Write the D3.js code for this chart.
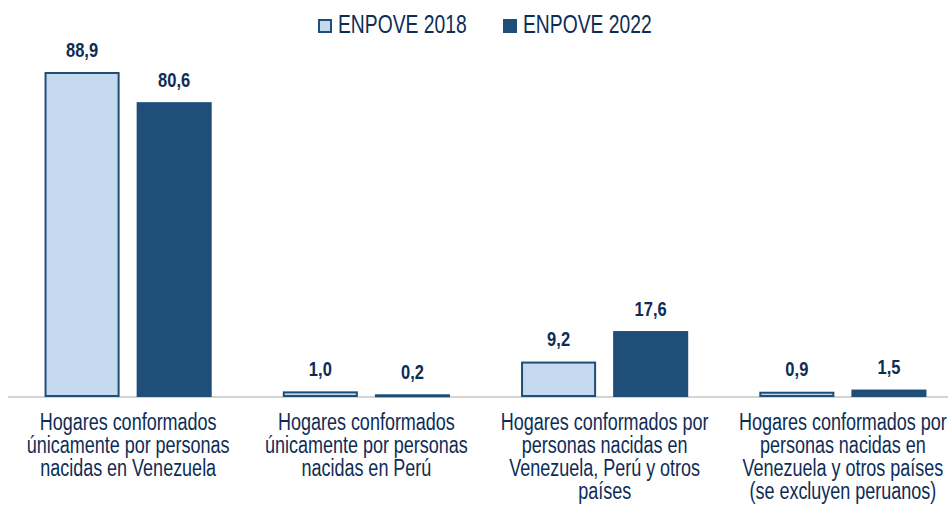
<!DOCTYPE html>
<html>
<head>
<meta charset="utf-8">
<script src="https://cdn.jsdelivr.net/npm/d3@7"></script>
<style>
  body { margin: 0; background: #fff; }
  text { font-family: "Liberation Sans", Arial, sans-serif; }
</style>
</head>
<body>
<div id="chart"></div>
<script>
// data
var categories = [
  ["Hogares conformados", "únicamente por personas", "nacidas en Venezuela"],
  ["Hogares conformados", "únicamente por personas", "nacidas en Perú"],
  ["Hogares conformados por", "personas nacidas en", "Venezuela, Perú y otros", "países"],
  ["Hogares conformados por", "personas nacidas en", "Venezuela y otros países", "(se excluyen peruanos)"]
];
var seriesNames = ["ENPOVE 2018", "ENPOVE 2022"];
var values2018 = [88.9, 1.0, 9.2, 0.9];
var values2022 = [80.6, 0.2, 17.6, 1.5];

var svgWidth = 948, svgHeight = 506;
var baseY = 396;

var svg = d3.select("#chart").append("svg")
  .attr("width", svgWidth)
  .attr("height", svgHeight);

var x0 = d3.scaleBand()
  .domain(d3.range(categories.length))
  .range([9, 962]);

var x1 = d3.scaleBand()
  .domain([0, 1])
  .range([0, x0.bandwidth()])
  .paddingInner(0.185)
  .paddingOuter(0.386);

var y = d3.scaleLinear()
  .domain([0, 88.9])
  .range([baseY, 73]);

var fills = ["#c6daef", "#1f4e79"];
var textColor = "#0e2d56";

var rows = [];
categories.forEach(function(c, i) {
  rows.push({cat: i, s: 0, v: values2018[i]});
  rows.push({cat: i, s: 1, v: values2022[i]});
});

// axis line
svg.append("line")
  .attr("x1", 8).attr("x2", svgWidth)
  .attr("y1", baseY + 1).attr("y2", baseY + 1)
  .attr("stroke", "#d4d4d4")
  .attr("stroke-width", 2);

// bars
svg.selectAll("rect.bar")
  .data(rows)
  .enter()
  .append("rect")
  .attr("class", "bar")
  .attr("x", d => x0(d.cat) + x1(d.s) + 1)
  .attr("y", d => y(d.v))
  .attr("width", x1.bandwidth() - 2)
  .attr("height", d => Math.max(baseY - y(d.v), 1))
  .attr("fill", d => fills[d.s])
  .attr("stroke", "#1f4e79")
  .attr("stroke-width", 2);

// value labels (tall, narrow look like the original)
svg.selectAll("text.val")
  .data(rows)
  .enter()
  .append("text")
  .attr("class", "val")
  .attr("transform", d => `translate(${x0(d.cat) + x1(d.s) + x1.bandwidth() / 2}, ${y(d.v) - 16.5}) scale(1, 1.2)`)
  .attr("text-anchor", "middle")
  .attr("font-size", "16.5px")
  .attr("font-weight", "bold")
  .attr("fill", textColor)
  .text(d => d3.format(".1f")(d.v).replace(".", ","));

// category labels
categories.forEach(function(lines, i) {
  lines.forEach(function(l, j) {
    svg.append("text")
      .attr("transform", `translate(${x0(i) + x0.bandwidth() / 2}, ${430 + j * 23}) scale(1, 1.28)`)
      .attr("text-anchor", "middle")
      .attr("font-size", "18px")
      .attr("fill", textColor)
      .text(l);
  });
});

// legend
var legendX = [318, 503];
var legend = svg.selectAll("g.legend")
  .data(seriesNames)
  .enter()
  .append("g")
  .attr("class", "legend")
  .attr("transform", (d, i) => `translate(${legendX[i]}, 0)`);

legend.append("rect")
  .attr("x", 1).attr("y", 20)
  .attr("width", 12).attr("height", 12)
  .attr("fill", (d, i) => fills[i])
  .attr("stroke", "#1f4e79")
  .attr("stroke-width", 2);

legend.append("text")
  .attr("transform", "translate(20, 33) scale(1, 1.3)")
  .attr("font-size", "19.3px")
  .attr("fill", textColor)
  .text(d => d);
</script>
</body>
</html>
